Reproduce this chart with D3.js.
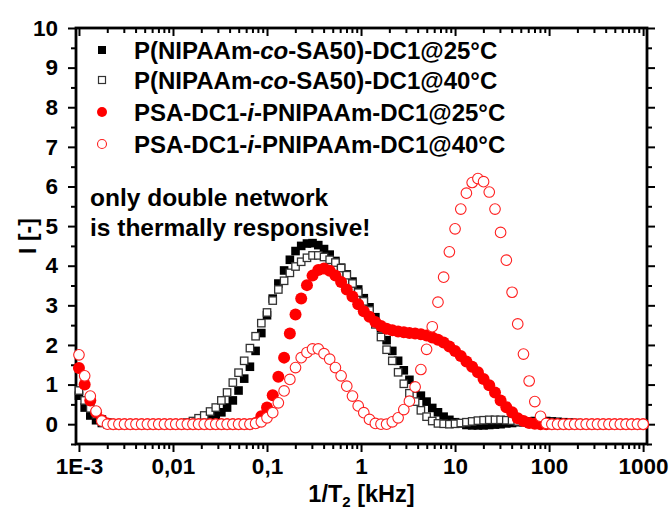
<!DOCTYPE html>
<html>
<head>
<meta charset="utf-8">
<script src="https://cdn.jsdelivr.net/npm/d3@7"></script>
<style>
  html, body { margin: 0; padding: 0; background: #fff; }
  svg { display: block; font-family: "Liberation Sans", Arial, sans-serif; font-weight: bold; }
</style>
</head>
<body>
<svg id="chart" width="671" height="509"></svg>
<script>
// Relaxation frequency grid 1/T2 in kHz (log spaced, 100 points per curve)
const freq = [
  0.001, 0.00115, 0.00132, 0.00152, 0.00175, 0.00201, 0.00231, 0.00266, 0.00305, 0.00351,
  0.00404, 0.00464, 0.00534, 0.00614, 0.00705, 0.00811, 0.00933, 0.0107, 0.0123, 0.0142,
  0.0163, 0.0187, 0.0215, 0.0248, 0.0285, 0.0327, 0.0376, 0.0433, 0.0498, 0.0572,
  0.0658, 0.0756, 0.0870,
  0.1, 0.115, 0.132, 0.152, 0.175, 0.201, 0.231, 0.266, 0.305, 0.351,
  0.404, 0.464, 0.534, 0.614, 0.705, 0.811, 0.933, 1.07, 1.23, 1.42,
  1.63, 1.87, 2.15, 2.48, 2.85, 3.27, 3.76, 4.33, 4.98, 5.72,
  6.58, 7.56, 8.70,
  10, 11.5, 13.2, 15.2, 17.5, 20.1, 23.1, 26.6, 30.5, 35.1,
  40.4, 46.4, 53.4, 61.4, 70.5, 81.1, 93.3, 107, 123, 142,
  163, 187, 215, 248, 285, 327, 376, 433, 498, 572,
  658, 756, 870,
  1000
];

// P(NIPAAm-co-SA50)-DC1 @ 25 °C
const copoly25 = [
  0.72, 0.42, 0.22, 0.1, 0.03,
  0, 0, 0, 0, 0, 0, 0, 0, 0, 0, 0, 0, 0, 0,
  0.02, 0.04, 0.07, 0.1, 0.15, 0.22, 0.3, 0.42, 0.6, 0.85,
  1.15, 1.45, 1.85, 2.3, 2.75, 3.17, 3.55, 3.88, 4.15, 4.37,
  4.5, 4.56, 4.57, 4.52, 4.42, 4.28, 4.12, 3.95, 3.78, 3.6,
  3.4, 3.18, 2.95, 2.7, 2.42, 2.12, 1.85, 1.6, 1.36, 1.12,
  0.9, 0.72, 0.57, 0.41, 0.3, 0.19, 0.11, 0.05, 0.02, -0.02,
  -0.03, -0.03, -0.03, -0.02, -0.01, 0, 0.02, 0.03, 0.05, 0.06,
  0.07, 0.08, 0.08, 0.08, 0.07, 0.06, 0.05, 0.04, 0.03, 0.02,
  0, 0, 0, 0, 0, 0, 0, 0, 0, 0, 0
];

// P(NIPAAm-co-SA50)-DC1 @ 40 °C
const copoly40 = [
  0.85, 0.6, 0.4, 0.25, 0.12, 0.04,
  0, 0, 0, 0, 0, 0, 0, 0, 0, 0, 0, 0, 0,
  0.04, 0.08, 0.15, 0.22, 0.32, 0.42, 0.6, 0.8, 1.05, 1.3,
  1.6, 1.92, 2.22, 2.55, 2.82, 3.12, 3.4, 3.62, 3.82, 3.98,
  4.1, 4.2, 4.26, 4.26, 4.22, 4.15, 4.08, 3.94, 3.76, 3.55,
  3.32, 3.1, 2.87, 2.52, 2.2, 1.88, 1.6, 1.31, 1.02, 0.78,
  0.57, 0.35, 0.19, 0.08, 0.02, 0.01, 0, 0.01, 0.03, 0.05,
  0.07, 0.09, 0.1, 0.11, 0.11, 0.11, 0.1, 0.09, 0.07, 0.05,
  0.03, 0.02,
  0, 0, 0, 0, 0, 0, 0, 0, 0, 0, 0, 0, 0, 0, 0, 0, 0, 0, 0
];

// PSA-DC1-i-PNIPAAm-DC1 @ 25 °C
const ipn25 = [
  1.42, 1.0, 0.6, 0.3, 0.1, 0.02,
  0, 0, 0, 0, 0, 0, 0, 0, 0, 0, 0, 0, 0, 0, 0, 0, 0, 0, 0, 0, 0, 0, 0, 0, 0,
  0.03, 0.2,
  0.42, 0.73, 1.2, 1.68, 2.29, 2.77, 3.17, 3.51, 3.75, 3.89,
  3.93, 3.87, 3.75, 3.59, 3.4, 3.22, 3.03, 2.85, 2.71, 2.58,
  2.48, 2.41, 2.37, 2.34, 2.32, 2.3, 2.29, 2.27, 2.24, 2.19,
  2.13, 2.06, 1.96, 1.85, 1.72, 1.58, 1.45, 1.31, 1.14, 0.98,
  0.8, 0.6, 0.43, 0.3, 0.15, 0.08, 0.03, 0.01,
  0, 0, 0, 0, 0, 0, 0, 0, 0, 0, 0, 0, 0, 0, 0, 0, 0, 0, 0
];

// PSA-DC1-i-PNIPAAm-DC1 @ 40 °C
const ipn40 = [
  1.75, 1.22, 0.71, 0.33, 0.08,
  0, 0, 0, 0, 0, 0, 0, 0, 0, 0, 0, 0, 0, 0, 0, 0, 0, 0, 0, 0, 0, 0, 0, 0, 0, 0,
  0.02, 0.06,
  0.16, 0.29, 0.54, 0.84, 1.13, 1.43, 1.68, 1.81, 1.9, 1.9,
  1.78, 1.64, 1.43, 1.22, 0.96, 0.71, 0.46, 0.29, 0.12, 0.02,
  0, 0, 0.06, 0.16, 0.37, 0.58, 0.94, 1.38, 1.89, 2.46,
  3.08, 3.71, 4.35, 4.93, 5.43, 5.83, 6.1, 6.2, 6.12, 5.86,
  5.43, 4.84, 4.14, 3.33, 2.53, 1.77, 1.09, 0.57, 0.2, 0.02,
  0, 0, 0, 0, 0, 0, 0, 0, 0, 0, 0, 0, 0, 0, 0, 0, 0
];

const seriesNames = [
  "P(NIPAAm-|co|-SA50)-DC1@25°C",
  "P(NIPAAm-|co|-SA50)-DC1@40°C",
  "PSA-DC1-|i|-PNIPAAm-DC1@25°C",
  "PSA-DC1-|i|-PNIPAAm-DC1@40°C"
];
const xTickValues = [0.001, 0.01, 0.1, 1, 10, 100, 1000];
const xTickLabels = ["1E-3", "0,01", "0,1", "1", "10", "100", "1000"];
const yTickValues = [0, 1, 2, 3, 4, 5, 6, 7, 8, 9, 10];
const noteLines = ["only double network", "is thermally responsive!"];

const svg = d3.select("#chart");
const L = 76, R = 647, T = 28, B = 444;

const x = d3.scaleLog().domain([0.00093, 1100]).range([L, R]);
const y = d3.scaleLinear().domain([-0.5, 10]).range([B, T]);

// minor tick positions
const xMinor = [];
[0.001, 0.01, 0.1, 1, 10, 100].forEach(d => {
  for (let k = 2; k <= 9; k++) xMinor.push(d * k);
});
const yMinor = d3.range(-0.5, 10, 1);

function styleAxis(g) {
  g.select(".domain").remove();
  g.selectAll(".tick line").attr("stroke", "#000").attr("stroke-width", 2);
  g.selectAll(".tick text").attr("fill", "#000")
    .style("font-size", "22.5px").style("font-weight", "bold")
    .style("font-family", "'Liberation Sans', Arial, sans-serif");
}

// bottom axis
svg.append("g").attr("transform", `translate(0,${B})`)
  .call(d3.axisBottom(x).tickValues(xMinor).tickSize(5).tickFormat(""))
  .call(styleAxis);
svg.append("g").attr("transform", `translate(0,${B})`)
  .call(d3.axisBottom(x).tickValues(xTickValues).tickSize(8).tickPadding(6)
    .tickFormat((d, i) => xTickLabels[i]))
  .call(styleAxis);
// top axis (ticks pointing inward)
svg.append("g").attr("transform", `translate(0,${T})`)
  .call(d3.axisBottom(x).tickValues(xMinor).tickSize(5).tickFormat(""))
  .call(styleAxis);
svg.append("g").attr("transform", `translate(0,${T})`)
  .call(d3.axisBottom(x).tickValues(xTickValues).tickSize(8).tickFormat(""))
  .call(styleAxis);
// left axis
svg.append("g").attr("transform", `translate(${L},0)`)
  .call(d3.axisLeft(y).tickValues(yMinor).tickSize(5).tickFormat(""))
  .call(styleAxis);
svg.append("g").attr("transform", `translate(${L},0)`)
  .call(d3.axisLeft(y).tickValues(yTickValues).tickSize(8).tickPadding(10)
    .tickFormat(d3.format("d")))
  .call(styleAxis);
// right axis
svg.append("g").attr("transform", `translate(${R},0)`)
  .call(d3.axisRight(y).tickValues(yMinor).tickSize(5).tickFormat(""))
  .call(styleAxis);
svg.append("g").attr("transform", `translate(${R},0)`)
  .call(d3.axisRight(y).tickValues(yTickValues).tickSize(8).tickFormat(""))
  .call(styleAxis);

// frame
svg.append("rect").attr("x", L).attr("y", T).attr("width", R - L).attr("height", B - T)
  .attr("fill", "none").attr("stroke", "#000").attr("stroke-width", 2.8);

// axis titles
svg.append("text").attr("transform", `translate(36,${(T + B) / 2}) rotate(-90)`)
  .attr("text-anchor", "middle").style("font-size", "23px").text("I [-]");
const xt = svg.append("text").attr("x", (L + R) / 2).attr("y", 502)
  .attr("text-anchor", "middle").style("font-size", "23.5px");
xt.append("tspan").text("1/T");
xt.append("tspan").attr("dy", 5).style("font-size", "15px").text("2");
xt.append("tspan").attr("dy", -5).text(" [kHz]");

// data marks
const plot = svg.append("g");
const sq = 8.6;
const pts = arr => arr.map((v, i) => ({ f: freq[i], v }));

plot.append("g").selectAll("rect").data(pts(copoly25)).join("rect")
  .attr("x", d => x(d.f) - sq / 2).attr("y", d => y(d.v) - sq / 2)
  .attr("width", sq).attr("height", sq).attr("fill", "#000");

plot.append("g").selectAll("rect").data(pts(copoly40)).join("rect")
  .attr("x", d => x(d.f) - sq / 2 + 0.6).attr("y", d => y(d.v) - sq / 2 + 0.6)
  .attr("width", sq - 1.2).attr("height", sq - 1.2)
  .attr("fill", "#fff").attr("stroke", "#333").attr("stroke-width", 1.3);

plot.append("g").selectAll("circle").data(pts(ipn25)).join("circle")
  .attr("cx", d => x(d.f)).attr("cy", d => y(d.v)).attr("r", 6)
  .attr("fill", "#ff0000");

plot.append("g").selectAll("circle").data(pts(ipn40)).join("circle")
  .attr("cx", d => x(d.f)).attr("cy", d => y(d.v)).attr("r", 5.3)
  .attr("fill", "#fff").attr("stroke", "#ff2020").attr("stroke-width", 1.1);

// legend
const legY = [50, 80, 112, 144];
const leg = svg.append("g");
leg.append("rect").attr("x", 102 - 4).attr("y", legY[0] - 4).attr("width", 8).attr("height", 8).attr("fill", "#000");
leg.append("rect").attr("x", 102 - 3.5).attr("y", legY[1] - 3.5).attr("width", 7).attr("height", 7)
  .attr("fill", "#fff").attr("stroke", "#333").attr("stroke-width", 1.2);
leg.append("circle").attr("cx", 102).attr("cy", legY[2]).attr("r", 5).attr("fill", "#ff0000");
leg.append("circle").attr("cx", 102).attr("cy", legY[3]).attr("r", 4.5)
  .attr("fill", "#fff").attr("stroke", "#ff2020").attr("stroke-width", 1.1);

seriesNames.forEach((name, i) => {
  const t = leg.append("text").attr("x", 134).attr("y", legY[i] + 8.5).style("font-size", "24px");
  name.split("|").forEach((part, j) => {
    const s = t.append("tspan").text(part);
    if (j === 1) s.style("font-style", "italic");
  });
});

// note
noteLines.forEach((line, i) => {
  svg.append("text").attr("x", 90).attr("y", 206 + i * 30).style("font-size", "24.5px").text(line);
});
</script>
</body>
</html>
